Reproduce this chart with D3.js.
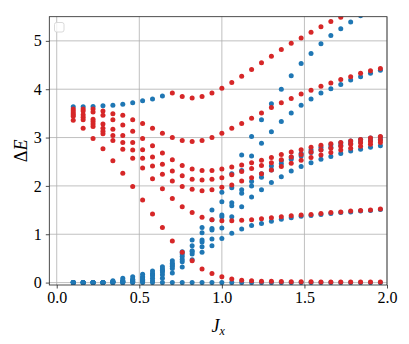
<!DOCTYPE html>
<html>
<head>
<meta charset="utf-8">
<script src="https://cdn.jsdelivr.net/npm/d3@7"></script>
<style>
    html, body { margin: 0; padding: 0; background: #fff; }
    svg text { font-family: "Liberation Serif", "DejaVu Serif", serif; fill: #000; }
</style>
</head>
<body>
<div id="chart"></div>
<script>
// J_x values (one column of points each)
const jx = [0.10, 0.16, 0.22, 0.28, 0.34, 0.40, 0.46, 0.52, 0.58, 0.64, 0.70, 0.76, 0.82, 0.88, 0.94, 1.00,
    1.06, 1.12, 1.18, 1.24, 1.30, 1.36, 1.42, 1.48, 1.54, 1.60, 1.66, 1.72, 1.78, 1.84, 1.90, 1.96]

// blue sector levels
const blueZero = [0, 0, 0, 0, 0, 0, 0, 0, 0, 0, 0, 0, 0, 0, 0, 0, 0, 0, 0, 0, 0, 0, 0, 0, 0, 0, 0, 0, 0, 0, 0, 0]
const blueTop = [3.635, 3.635, 3.64, 3.66, 3.67, 3.69, 3.72, 3.76, 3.80, 3.86,
    null, null, null, null, null, null, null, null, null, null, null, null, null, null, null, null, null, null, null, null, null, null]
const blueFan1 = [0, 0, 0, 0, 0, 0, 0.01, 0.02, 0.04, 0.09, 0.20, 0.32, 0.47, 0.63, 0.76, 0.91,
    1.02, 1.11, 1.18, 1.22, 1.27, 1.31, 1.34, 1.37, 1.39, 1.41, 1.43, 1.45, 1.46, 1.48, 1.49, 1.51]
const blueFan2 = [0, 0, 0, 0, 0.005, 0.01, 0.02, 0.05, 0.09, 0.16, 0.29, 0.43, 0.59, 0.74, 0.90, 1.13,
    1.36, 1.57, 1.77, 1.92, 2.07, 2.19, 2.31, 2.40, 2.48, 2.55, 2.61, 2.67, 2.72, 2.76, 2.80, 2.83]
const blueFan3 = [0, 0, 0, 0, 0.01, 0.02, 0.04, 0.07, 0.14, 0.22, 0.34, 0.48, 0.64, 0.84, 1.09, 1.36,
    1.59, 1.85, 2.00, 2.18, 2.33, 2.46, 2.55, 2.62, 2.69, 2.75, 2.80, 2.84, 2.88, 2.91, 2.94, 2.96]
const blueFan4 = [0, 0, 0, 0, 0.015, 0.03, 0.06, 0.10, 0.16, 0.25, 0.37, 0.54, 0.66, 0.88, 1.12, 1.40,
    1.65, 1.92, 2.09, 2.25, 2.41, 2.52, 2.60, 2.67, 2.74, 2.80, 2.85, 2.89, 2.93, 2.96, 2.99, 3.01]
const blueFan5 = [0, 0, 0, 0, 0.02, 0.05, 0.07, 0.12, 0.19, 0.28, 0.40, 0.59, 0.76, 1.03, 1.30, 1.67,
    1.96, 2.32, 2.62, 2.88, 3.12, 3.33, 3.51, 3.67, 3.80, 3.92, 4.01, 4.10, 4.19, 4.26, 4.33, 4.39]
const blueFan6 = [0, 0, 0, 0, 0.04, 0.09, 0.12, 0.17, 0.24, 0.33, 0.45, 0.64, 0.88, 1.14, 1.50, 1.87,
    2.25, 2.64, 3.02, 3.37, 3.70, 4.00, 4.28, 4.53, 4.74, 4.94, 5.11, 5.25, 5.39, 5.52, null, null]

// red sector levels
const redTop = [3.59, 3.59, 3.59, 3.55, 3.49, 3.46, 3.37, 3.29, 3.19, 3.09, 3.00, 2.94, 2.92, 2.94, 3.00, 3.09,
    3.19, 3.29, 3.40, 3.51, 3.62, 3.72, 3.81, 3.90, 3.98, 4.06, 4.13, 4.20, 4.26, 4.33, 4.38, 4.43]
const redBand1 = [3.55, 3.55, 3.53, 3.46, 3.37, 3.26, 3.13, 2.98, 2.83, 2.68, 2.54, 2.42, 2.35, 2.32, 2.32, 2.35,
    2.39, 2.43, 2.48, 2.53, 2.59, 2.65, 2.70, 2.75, 2.80, 2.84, 2.87, 2.90, 2.93, 2.96, 2.99, 3.02]
const redBand2 = [3.51, 3.47, 3.38, 3.28, 3.17, 3.04, 2.90, 2.75, 2.60, 2.45, 2.31, 2.21, 2.14, 2.12, 2.14, 2.17,
    2.23, 2.30, 2.36, 2.42, 2.48, 2.54, 2.60, 2.65, 2.70, 2.74, 2.78, 2.82, 2.86, 2.89, 2.92, 2.95]
const redBand3 = [3.47, 3.42, 3.33, 3.19, 3.04, 2.90, 2.74, 2.57, 2.41, 2.24, 2.10, 1.99, 1.93, 1.90, 1.92, 1.97,
    2.02, 2.10, 2.17, 2.25, 2.33, 2.40, 2.47, 2.53, 2.59, 2.64, 2.69, 2.74, 2.78, 2.82, 2.86, 2.90]
const redBand4 = [3.44, 3.37, 3.28, 3.13, 2.94, 2.76, 2.57, 2.37, 2.15, 1.94, 1.74, 1.57, 1.45, 1.35, 1.30, 1.28,
    1.28, 1.29, 1.30, 1.32, 1.34, 1.36, 1.38, 1.40, 1.41, 1.43, 1.45, 1.46, 1.48, 1.49, 1.50, 1.52]
const redBand5 = [null, null, 3.23, 3.08, null, null, null, null, null, null, null, null, null, null, null, null,
    null, null, null, null, null, null, null, null, null, null, null, null, null, null, null, null]
const redFall = [3.36, 3.19, 2.98, 2.77, 2.52, 2.26, 1.99, 1.71, 1.42, 1.14, 0.86, 0.63, 0.45, 0.28, 0.19, 0.12,
    0.075, 0.05, 0.04, 0.03, 0.025, 0.02, 0.018, 0.016, 0.015, 0.014, 0.013, 0.012, 0.011, 0.01, 0.01, 0.01]
const redUpper = [null, null, null, null, null, null, null, null, null, null, 3.92, 3.85, 3.82, 3.85, 3.92, 4.02,
    4.14, 4.27, 4.41, 4.55, 4.68, 4.82, 4.95, 5.06, 5.18, 5.29, 5.40, 5.49, null, null, null, null]

const xTicks = [0.0, 0.5, 1.0, 1.5, 2.0]
const yTicks = [0, 1, 2, 3, 4, 5]

const blueSeries = [blueZero, blueTop, blueFan1, blueFan2, blueFan3, blueFan4, blueFan5, blueFan6]
const redSeries = [redTop, redBand1, redBand2, redBand3, redBand4, redBand5, redFall, redUpper]

const width = 409,
    height = 344,
    plot = { left: 49.3, right: 387, top: 16.7, bottom: 285 },
    blue = "#1f77b4",
    red = "#d62728",
    radius = 2.5;

const x = d3.scaleLinear().domain([-0.045, 2.0]).range([plot.left, plot.right])
const y = d3.scaleLinear().domain([-0.05, 5.5]).range([plot.bottom, plot.top])

const svg = d3.select("#chart").append("svg")
    .attr("width", width)
    .attr("height", height)

svg.append("defs").append("clipPath").attr("id", "plotclip")
    .append("rect")
    .attr("x", plot.left).attr("y", plot.top)
    .attr("width", plot.right - plot.left).attr("height", plot.bottom - plot.top)

// grid
const grid = svg.append("g").attr("class", "grid")
grid.selectAll(".vgrid").data(xTicks).enter().append("line")
    .attr("x1", d => x(d)).attr("x2", d => x(d))
    .attr("y1", plot.top).attr("y2", plot.bottom)
    .attr("stroke", "#b0b0b0").attr("stroke-width", 0.8)
grid.selectAll(".hgrid").data(yTicks).enter().append("line")
    .attr("x1", plot.left).attr("x2", plot.right)
    .attr("y1", d => y(d)).attr("y2", d => y(d))
    .attr("stroke", "#b0b0b0").attr("stroke-width", 0.8)

// flatten a list of level arrays into points
const toPoints = (series) => series.flatMap((level) =>
    level.map((v, i) => ({ jx: jx[i], e: v })).filter((p) => p.e !== null))

const dots = svg.append("g").attr("clip-path", "url(#plotclip)")

dots.selectAll(".blue").data(toPoints(blueSeries)).enter().append("circle")
    .attr("class", "blue")
    .attr("cx", d => x(d.jx)).attr("cy", d => y(d.e))
    .attr("r", radius).attr("fill", blue)

dots.selectAll(".red").data(toPoints(redSeries)).enter().append("circle")
    .attr("class", "red")
    .attr("cx", d => x(d.jx)).attr("cy", d => y(d.e))
    .attr("r", radius).attr("fill", red)

// empty legend box
svg.append("rect")
    .attr("x", 54.5).attr("y", 22.5).attr("width", 9.5).attr("height", 9.5)
    .attr("rx", 2).attr("fill", "#fff").attr("fill-opacity", 0.8)
    .attr("stroke", "#d0d0d0").attr("stroke-width", 0.8)

// axes
const xAxis = svg.append("g")
    .attr("transform", "translate(0," + plot.bottom + ")")
    .call(d3.axisBottom(x).tickValues(xTicks).tickFormat(d3.format(".1f")).tickSize(3.5).tickPadding(3))
const yAxis = svg.append("g")
    .attr("transform", "translate(" + plot.left + ",0)")
    .call(d3.axisLeft(y).tickValues(yTicks).tickFormat(d3.format("d")).tickSize(3.5).tickPadding(4))

svg.selectAll(".domain").remove()
svg.selectAll(".tick line").attr("stroke", "#222").attr("stroke-width", 0.8)
svg.selectAll(".tick text").attr("font-size", 16).attr("font-family", null).attr("fill", "#000")

svg.append("rect")
    .attr("x", plot.left).attr("y", plot.top)
    .attr("width", plot.right - plot.left).attr("height", plot.bottom - plot.top)
    .attr("fill", "none").attr("stroke", "#222").attr("stroke-width", 0.8)

// axis labels
const xlabel = svg.append("text")
    .attr("x", (plot.left + plot.right) / 2).attr("y", 332)
    .attr("text-anchor", "middle").attr("font-size", 18)
xlabel.append("tspan").attr("font-style", "italic").text("J")
xlabel.append("tspan").attr("font-style", "italic").attr("font-size", 12).attr("dy", 3).text("x")

const ylabel = svg.append("text")
    .attr("transform", "translate(27," + ((plot.top + plot.bottom) / 2) + ") rotate(-90)")
    .attr("text-anchor", "middle").attr("font-size", 18)
ylabel.append("tspan").text("Δ")
ylabel.append("tspan").attr("font-style", "italic").text("E")
</script>
</body>
</html>
